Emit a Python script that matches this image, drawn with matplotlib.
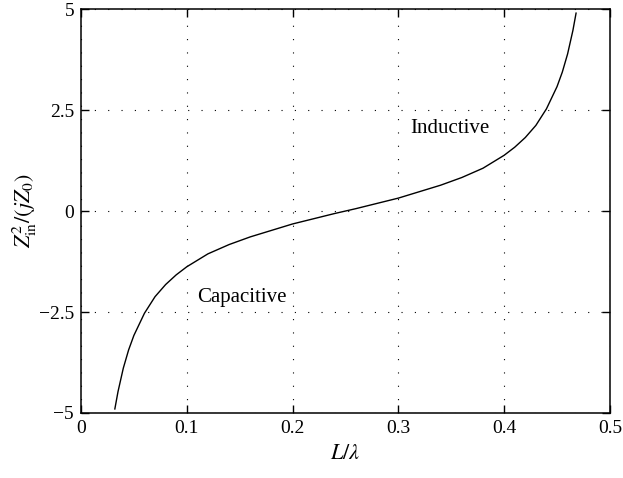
import numpy as np
import matplotlib
matplotlib.use('Agg')
import matplotlib.pyplot as plt

plt.rcParams['font.family'] = ['Liberation Serif', 'DejaVu Serif']
plt.rcParams['mathtext.fontset'] = 'stix'

# values
L_lambda = [0.032, 0.035, 0.04, 0.045, 0.05, 0.06, 0.07, 0.08, 0.09, 0.10,
            0.12, 0.14, 0.16, 0.18, 0.20, 0.22, 0.24, 0.26, 0.28, 0.30,
            0.32, 0.34, 0.36, 0.38, 0.40, 0.41, 0.42, 0.43, 0.44, 0.45,
            0.455, 0.46, 0.465, 0.468]
z_ratio = [-4.90, -4.47, -3.89, -3.44, -3.08, -2.53, -2.12, -1.82, -1.58, -1.38,
           -1.06, -0.83, -0.64, -0.48, -0.32, -0.19, -0.06, 0.06, 0.19, 0.32,
           0.48, 0.64, 0.83, 1.06, 1.38, 1.58, 1.82, 2.12, 2.53, 3.08,
           3.44, 3.89, 4.47, 4.90]

x_ticks = [0, 0.1, 0.2, 0.3, 0.4, 0.5]
x_tick_labels = ['0', '0.1', '0.2', '0.3', '0.4', '0.5']
y_ticks = [-5, -2.5, 0, 2.5, 5]
y_tick_labels = ['\u22125', '\u22122.5', '0', '2.5', '5']

fig = plt.figure(figsize=(6.23, 4.78), dpi=100)
ax = fig.add_axes([0.130, 0.136, 0.849, 0.845])

ax.plot(L_lambda, z_ratio, color='black', linewidth=1.0)

ax.set_xlim(0, 0.5)
ax.set_ylim(-5, 5)
ax.set_xticks(x_ticks)
ax.set_xticklabels(x_tick_labels)
ax.set_yticks(y_ticks)
ax.set_yticklabels(y_tick_labels)
ax.tick_params(direction='in', length=6, width=1, labelsize=14,
               top=True, right=True, pad=5)
for s in ax.spines.values():
    s.set_linewidth(1.1)
ax.grid(True, color='black', linestyle=(0, (1, 11)), linewidth=0.8)

ax.text(0.11, -2.13, 'Capacitive', fontsize=15, ha='left', va='center')
ax.text(0.311, 2.05, 'Inductive', fontsize=15, ha='left', va='center')

ax.set_xlabel(r'$L/\lambda$', fontsize=16, labelpad=6)
ax.set_ylabel(r'$Z_{\mathrm{in}}^{2}/(jZ_0)$', fontsize=16, labelpad=0)

plt.savefig('out.png', dpi=100)
